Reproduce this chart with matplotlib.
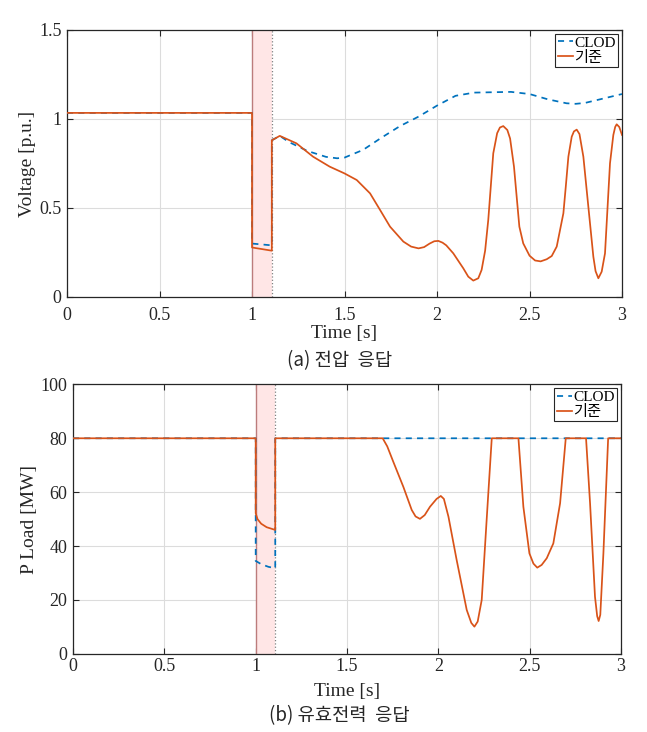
import matplotlib
matplotlib.use("Agg")
import matplotlib.pyplot as plt

# ---------------- data ----------------
fault_start = 1.0
fault_end = 1.107

# (a) voltage, CLOD
v_clod_t = [0, 1.0, 1.0, 1.107, 1.107, 1.15, 1.2, 1.3, 1.4, 1.46, 1.5, 1.6, 1.7, 1.8, 1.9,
            2.0, 2.1, 2.2, 2.3, 2.4, 2.5, 2.6, 2.7, 2.75, 2.8, 2.9, 3.0]
v_clod = [1.034, 1.034, 0.30, 0.29, 0.88, 0.905, 0.87, 0.82, 0.787, 0.779, 0.783, 0.826,
          0.895, 0.96, 1.013, 1.075, 1.13, 1.148, 1.15, 1.152, 1.14, 1.11, 1.088, 1.085,
          1.09, 1.115, 1.14]

# (a) voltage, 기준
v_base_t = [0, 1.0, 1.0, 1.107, 1.107, 1.15, 1.24, 1.33, 1.42, 1.5, 1.566, 1.638, 1.692,
            1.746, 1.818, 1.86, 1.9, 1.93, 1.96, 1.985, 2.007, 2.03, 2.05, 2.088, 2.142,
            2.169, 2.196, 2.223, 2.241, 2.26, 2.277, 2.304, 2.325, 2.34, 2.358, 2.38, 2.395,
            2.416, 2.445, 2.466, 2.5, 2.53, 2.56, 2.593, 2.62, 2.647, 2.683, 2.696, 2.71,
            2.728, 2.74, 2.755, 2.77, 2.791, 2.809, 2.845, 2.857, 2.872, 2.89, 2.908, 2.92,
            2.935, 2.953, 2.963, 2.971, 2.985, 3.0]
v_base = [1.034, 1.034, 0.278, 0.26, 0.88, 0.905, 0.863, 0.788, 0.732, 0.694, 0.657, 0.582,
          0.489, 0.395, 0.311, 0.283, 0.273, 0.28, 0.30, 0.313, 0.315, 0.305, 0.29, 0.245,
          0.161, 0.114, 0.092, 0.105, 0.152, 0.26, 0.433, 0.807, 0.92, 0.952, 0.96, 0.938,
          0.89, 0.732, 0.395, 0.301, 0.232, 0.205, 0.20, 0.212, 0.23, 0.283, 0.47, 0.62,
          0.788, 0.9, 0.93, 0.94, 0.915, 0.788, 0.60, 0.226, 0.145, 0.105, 0.142, 0.245,
          0.47, 0.751, 0.91, 0.955, 0.97, 0.955, 0.91]

# (b) active power, CLOD
p_clod_t = [0, 1.0, 1.0, 1.03, 1.07, 1.107, 1.107, 3.0]
p_clod = [80, 80, 34.5, 33.3, 32.3, 31.8, 80, 80]

# (b) active power, 기준
p_base_t = [0, 1.0, 1.0, 1.01, 1.03, 1.06, 1.107, 1.107, 1.695, 1.72, 1.753, 1.808, 1.854,
            1.875, 1.899, 1.925, 1.954, 1.99, 2.013, 2.03, 2.055, 2.1, 2.155, 2.18, 2.197,
            2.215, 2.237, 2.264, 2.292, 2.438, 2.465, 2.498, 2.52, 2.541, 2.565, 2.593,
            2.629, 2.666, 2.697, 2.808, 2.83, 2.857, 2.869, 2.877, 2.886, 2.903, 2.929, 3.0]
p_base = [80, 80, 52.2, 50.0, 48.3, 47.0, 46.0, 80, 80, 77.0, 71.3, 62.0, 53.4, 51.0, 50.1,
          51.5, 54.6, 57.5, 58.6, 57.5, 50.9, 34.8, 16.3, 11.5, 10.1, 12.0, 20.0, 49.7,
          80, 80, 54.6, 37.3, 33.5, 32.0, 33.0, 35.5, 41.0, 55.9, 80, 80, 55.9, 21.2, 14.0,
          12.2, 14.5, 37.3, 80, 80]

x_ticks = [0, 0.5, 1, 1.5, 2, 2.5, 3]
x_tick_labels = ["0", "0.5", "1", "1.5", "2", "2.5", "3"]
v_ticks = [0, 0.5, 1, 1.5]
v_tick_labels = ["0", "0.5", "1", "1.5"]
p_ticks = [0, 20, 40, 60, 80, 100]
p_tick_labels = ["0", "20", "40", "60", "80", "100"]

series_names = ["CLOD", "기준"]
captions = ["(a) 전압  응답", "(b) 유효전력  응답"]

# ---------------- style ----------------
BLUE = "#0072BD"
ORANGE = "#D95319"
SERIF = ["Liberation Serif", "DejaVu Serif"]
MIX = ["Liberation Serif", "Noto Sans CJK KR"]
KR = ["Noto Sans CJK KR", "DejaVu Sans"]

plt.rcParams["font.family"] = SERIF

fig = plt.figure(figsize=(6.47, 7.32), dpi=100)
ax1 = fig.add_axes([0.1036, 0.5943, 0.8578, 0.3648])
ax2 = fig.add_axes([0.1128, 0.1067, 0.8472, 0.3682])


def style(ax, yticks, ylabels, ylim, ylabel, xpad, xlabelpad):
    ax.set_xlim(0, 3)
    ax.set_ylim(*ylim)
    ax.set_xticks(x_ticks)
    ax.set_xticklabels(x_tick_labels)
    ax.set_yticks(yticks)
    ax.set_yticklabels(ylabels)
    ax.tick_params(direction="in", top=True, right=True, length=4, width=0.8,
                   labelsize=13, colors="#262626")
    ax.tick_params(axis="x", pad=xpad)
    ax.tick_params(axis="y", pad=4)
    ax.grid(True, color="#dcdcdc", linewidth=0.8)
    ax.set_axisbelow(True)
    for s in ax.spines.values():
        s.set_color("#262626")
        s.set_linewidth(0.9)
    ax.set_xlabel("Time [s]", fontsize=14, labelpad=xlabelpad, color="#262626")
    ax.set_ylabel(ylabel, fontsize=14, labelpad=2, color="#262626")


def fault(ax):
    ax.axvspan(fault_start, fault_end, facecolor="#FFE6E6", edgecolor="none", zorder=1)
    ax.axvline(fault_start, color="#A05050", linewidth=1.0, alpha=0.7, zorder=1.5)
    ax.axvline(fault_end, color="#808080", linewidth=0.9, linestyle=":", zorder=1.5)


def legend(ax):
    leg = ax.legend(loc="upper right", prop={"family": MIX, "size": 11},
                    handlelength=1.0, handletextpad=0.1, borderpad=0.15,
                    labelspacing=0.05, borderaxespad=0.25, fancybox=False,
                    framealpha=1)
    leg.get_frame().set_edgecolor("#262626")
    leg.get_frame().set_linewidth(0.8)


# (a)
fault(ax1)
ax1.plot(v_clod_t, v_clod, color=BLUE, linestyle=(0, (3.5, 3)), linewidth=1.25,
         label=series_names[0], zorder=3)
ax1.plot(v_base_t, v_base, color=ORANGE, linewidth=1.25, label=series_names[1], zorder=4)
style(ax1, v_ticks, v_tick_labels, (0, 1.5), "Voltage [p.u.]", 7, 1)
legend(ax1)

# (b)
fault(ax2)
ax2.plot(p_clod_t, p_clod, color=BLUE, linestyle=(0, (3.5, 3)), linewidth=1.25,
         label=series_names[0], zorder=3)
ax2.plot(p_base_t, p_base, color=ORANGE, linewidth=1.25, label=series_names[1], zorder=4)
style(ax2, p_ticks, p_tick_labels, (0, 100), "P Load [MW]", 3, 6)
legend(ax2)

fig.text(0.525, 0.508, captions[0], ha="center", va="center", fontsize=13.5,
         family=KR, color="#262626")
fig.text(0.525, 0.022, captions[1], ha="center", va="center", fontsize=13.5,
         family=KR, color="#262626")

fig.savefig("out.png", dpi=100)
